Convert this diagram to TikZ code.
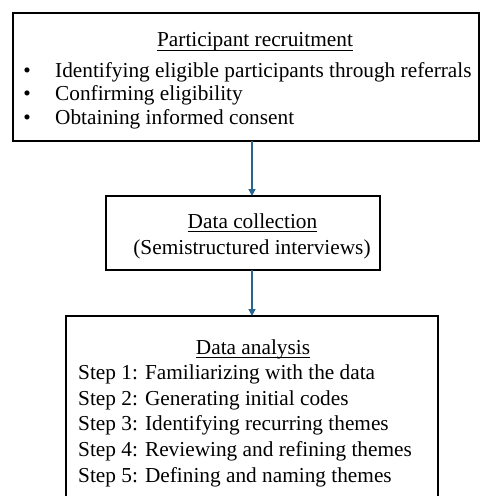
\documentclass[tikz,border=0pt]{standalone}
\usepackage{fontspec}
\setmainfont{Liberation Serif}
\usetikzlibrary{arrows.meta}
\definecolor{arrowblue}{HTML}{2A6592}
\newlength\myulw
\newcommand\myul[1]{\settowidth\myulw{#1}\rlap{\rule[-4pt]{\myulw}{1pt}}#1}
\begin{document}
\begin{tikzpicture}[x=1pt,y=-1pt,
  box/.style={draw=black,line width=2pt,inner sep=0pt,outer sep=0pt,anchor=north west},
  txt/.style={inner sep=0pt,font=\fontsize{21.3}{25}\selectfont},
  conn/.style={draw=arrowblue,line width=1.5pt,-{Triangle[length=7pt,width=7pt]}}]
\useasboundingbox (0,0) rectangle (480,496);
% boxes
\node[box, minimum width=466pt, minimum height=128pt] (b1) at (13,13) {};
\node[box, minimum width=274pt, minimum height=74pt] (b2) at (106,196) {};
\node[box, minimum width=372pt, minimum height=210pt] (b3) at (66,316) {};
% connectors
\coordinate (ax) at (252,0);
\draw[conn] (b1.south -| ax) -- (b2.north -| ax);
\draw[conn] (b2.south -| ax) -- (b3.north -| ax);
% top box text
\node[txt, anchor=base] (t1) at (255,46.5) {\myul{Participant recruitment}};
\node[txt, anchor=base] (u1) at (27,77) {•};
\node[txt, anchor=base] (u2) at (27,100.5) {•};
\node[txt, anchor=base] (u3) at (27,124) {•};
\node[txt, anchor=base west] (l1) at (55,77) {Identifying eligible participants through referrals};
\node[txt, anchor=base west] (l2) at (55,100.5) {Confirming eligibility};
\node[txt, anchor=base west] (l3) at (55,124) {Obtaining informed consent};
% middle box text
\node[txt, anchor=base] (t2) at (252.5,228) {\myul{Data collection}};
\node[txt, anchor=base] (m1) at (252,254) {(Semistructured interviews)};
% bottom box text
\node[txt, anchor=base] (t3) at (253,354) {\myul{Data analysis}};
\node[txt, anchor=base west] (s1) at (78,379) {Step 1: Familiarizing with the data};
\node[txt, anchor=base west] (s2) at (78,405) {Step 2: Generating initial codes};
\node[txt, anchor=base west] (s3) at (78,430) {Step 3: Identifying recurring themes};
\node[txt, anchor=base west] (s4) at (78,456) {Step 4: Reviewing and refining themes};
\node[txt, anchor=base west] (s5) at (78,482) {Step 5: Defining and naming themes};
\end{tikzpicture}
\end{document}
